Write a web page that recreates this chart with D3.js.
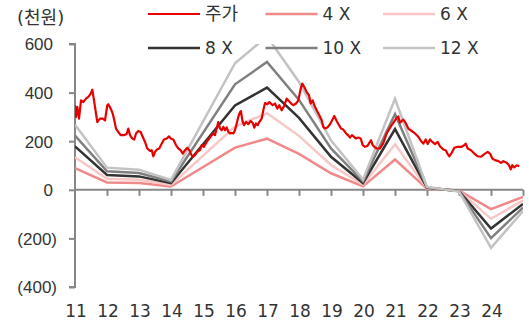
<!DOCTYPE html>
<html><head><meta charset="utf-8">
<script src="https://cdn.jsdelivr.net/npm/d3@7"></script>
<style>
html,body{margin:0;padding:0;background:#fff;}
svg{display:block;font-family:"DejaVu Sans","Noto Sans CJK KR",sans-serif;}
</style></head>
<body><svg id="c" width="529" height="323"></svg>
<script>
// ---- data ----
const yearTicks = [2011,2012,2013,2014,2015,2016,2017,2018,2019,2020,2021,2022,2023,2024];
const yearLabels = ["11","12","13","14","15","16","17","18","19","20","21","22","23","24"];
const yTicks = [-400,-200,0,200,400,600];
const yTickLabels = ["(400)","(200)","0","200","400","600"];
const unitLabel = "(천원)";

const epsYears = [2011,2012,2013,2014,2016,2017,2018,2019,2020,2021,2022,2023,2024,2025];
const eps = [22.3,7.6,6.9,3.4,43.4,52.6,37.0,17.0,3.5,31.2,1.0,-0.6,-19.9,-7.3];
const multiples = [4,6,8,10,12];
const bandNames = ["4 X","6 X","8 X","10 X","12 X"];
const priceName = "주가";

const priceDates = [2011.000,2011.031,2011.072,2011.125,2011.188,2011.259,2011.344,2011.416,2011.491,2011.541,
2011.594,2011.656,2011.697,2011.781,2011.866,2011.938,2012.009,2012.041,2012.116,2012.178,2012.228,2012.281,
2012.353,2012.428,2012.531,2012.616,2012.666,2012.719,2012.791,2012.853,2012.906,2012.978,2013.053,2013.116,
2013.188,2013.259,2013.344,2013.397,2013.447,2013.500,2013.572,2013.634,2013.709,2013.781,2013.866,2013.938,
2013.991,2014.072,2014.156,2014.228,2014.303,2014.366,2014.438,2014.509,2014.572,2014.616,2014.678,2014.750,
2014.822,2014.906,2014.959,2015.031,2015.116,2015.197,2015.272,2015.322,2015.375,2015.428,2015.478,2015.531,
2015.584,2015.634,2015.688,2015.741,2015.791,2015.844,2015.897,2015.947,2016.000,2016.053,2016.103,2016.156,
2016.188,2016.228,2016.281,2016.344,2016.416,2016.491,2016.553,2016.603,2016.656,2016.709,2016.759,2016.834,
2016.884,2016.938,2017.009,2017.072,2017.178,2017.250,2017.322,2017.384,2017.459,2017.531,2017.616,2017.666,
2017.741,2017.822,2017.906,2017.978,2018.053,2018.103,2018.166,2018.241,2018.313,2018.366,2018.428,2018.478,
2018.553,2018.634,2018.709,2018.759,2018.813,2018.884,2018.969,2019.053,2019.103,2019.178,2019.250,2019.313,
2019.384,2019.459,2019.531,2019.594,2019.656,2019.719,2019.781,2019.853,2019.928,2019.991,2020.063,2020.134,
2020.197,2020.250,2020.303,2020.353,2020.428,2020.531,2020.634,2020.741,2020.822,2020.897,2020.969,2021.031,
2021.103,2021.156,2021.259,2021.334,2021.416,2021.522,2021.625,2021.728,2021.813,2021.884,2021.959,2022.022,
2022.094,2022.166,2022.250,2022.334,2022.406,2022.509,2022.584,2022.647,2022.697,2022.772,2022.853,2022.959,
2023.084,2023.166,2023.209,2023.272,2023.375,2023.478,2023.584,2023.688,2023.791,2023.897,2023.969,2024.041,
2024.125,2024.228,2024.313,2024.384,2024.491,2024.563,2024.616,2024.666,2024.728,2024.803,2024.884];
const priceValues = [348,300,341,293,368,361,375,382,396,412,
368,314,279,293,293,286,348,352,334,314,286,252,
238,225,225,230,252,225,211,207,232,242,238,218,
197,170,160,163,138,156,167,170,190,207,211,220,
211,207,184,170,163,149,163,173,163,149,136,143,
156,163,184,177,197,211,225,232,225,252,279,252,
245,259,245,257,238,232,234,232,245,273,300,320,
324,286,266,279,270,283,275,256,273,266,279,293,
327,357,352,361,348,355,334,348,327,344,375,368,
357,348,355,368,416,437,423,402,389,355,368,348,
327,307,286,259,252,256,270,290,304,283,266,252,
248,234,225,215,225,218,211,215,211,184,177,180,
193,204,184,177,170,170,192,232,250,266,280,292,
302,276,289,275,252,242,232,218,201,190,207,188,
207,197,188,197,179,166,163,147,138,152,173,177,
177,184,190,170,163,149,138,136,147,156,149,129,
122,118,111,118,111,101,84,101,92,101,97];

// ---- styles ----
const priceColor = "#e60000";
const bandColors = ["#f08a8a","#f9c6c6","#333333","#808080","#c3c3c3"];
const axisColor = "#878787";
const textColor = "#333";

const svg = d3.select("#c");
const x = d3.scaleLinear().domain([2011,2025]).range([75,523]);
const y = d3.scaleLinear().domain([-400,600]).range([287,44]);

svg.append("defs").append("clipPath").attr("id","clip")
  .append("rect").attr("x",x(2011)).attr("y",y(600)).attr("width",x(2025)-x(2011)).attr("height",y(-400)-y(600));

// axes
const yAxis = d3.axisLeft(y).tickValues(yTicks).tickSize(6).tickFormat((d,i)=>yTickLabels[i]);
const gy = svg.append("g").attr("transform",`translate(${x(2011)},0)`).call(yAxis);
gy.select(".domain").attr("stroke",axisColor).attr("stroke-width",2).attr("d",`M-6,${y(600)}H0V${y(-400)}H-6`);
gy.selectAll(".tick line").attr("stroke",axisColor).attr("stroke-width",2);
gy.selectAll(".tick text").attr("x",d=>d<0?-18:-22).attr("fill",textColor).style("font-size","17px").attr("dy","0.35em");

const xAxis = d3.axisBottom(x).tickValues(d3.range(2012,2026)).tickSize(6).tickFormat("");
const gx = svg.append("g").attr("transform",`translate(0,${y(0)})`).call(xAxis);
gx.select(".domain").attr("stroke",axisColor).attr("stroke-width",2).attr("d",`M${x(2011)},0H${x(2025)}`);
gx.selectAll(".tick line").attr("stroke",axisColor).attr("stroke-width",2);

svg.append("g").selectAll("text").data(yearTicks).join("text")
  .attr("x",d=>x(d)+1).attr("y",311).attr("dy","0.35em").attr("text-anchor","middle")
  .attr("fill",textColor).style("font-size","17px").text((d,i)=>yearLabels[i]);

svg.append("text").attr("x",17).attr("y",18).attr("dy","0.35em").attr("fill",textColor)
  .style("font-size","18px").text(unitLabel);

// lines
const plot = svg.append("g").attr("clip-path","url(#clip)");
const bandLine = d3.line().x(d=>x(d[0])).y(d=>y(d[1]));
multiples.forEach((m,i)=>{
  const pts = epsYears.map((yr,j)=>[yr, eps[j]*m]);
  plot.append("path").datum(pts).attr("d",bandLine).attr("fill","none")
    .attr("stroke",bandColors[i]).attr("stroke-width",2.5).attr("stroke-linejoin","miter");
});
const pricePts = priceDates.map((d,i)=>[d, priceValues[i]]);
plot.append("path").datum(pricePts).attr("d",bandLine).attr("fill","none")
  .attr("stroke",priceColor).attr("stroke-width",2.2).attr("stroke-linejoin","round");

// legend
const legendItems = [
  {name:priceName,color:priceColor,w:2.2,fs:18},
  {name:bandNames[0],color:bandColors[0],w:2.5,fs:17},
  {name:bandNames[1],color:bandColors[1],w:2.5,fs:17},
  {name:bandNames[2],color:bandColors[2],w:2.5,fs:17},
  {name:bandNames[3],color:bandColors[3],w:2.5,fs:17},
  {name:bandNames[4],color:bandColors[4],w:2.5,fs:17}
];
const lg = svg.append("g");
legendItems.forEach((it,i)=>{
  const col = i%3, row = Math.floor(i/3);
  const lx = 148 + col*117.5, ly = 14 + row*34;
  lg.append("line").attr("x1",lx).attr("x2",lx+52).attr("y1",ly).attr("y2",ly)
    .attr("stroke",it.color).attr("stroke-width",it.w);
  lg.append("text").attr("x",lx+57).attr("y",ly).attr("dy","0.35em").attr("fill",textColor)
    .style("font-size",it.fs+"px").text(it.name);
});
</script></body></html>
